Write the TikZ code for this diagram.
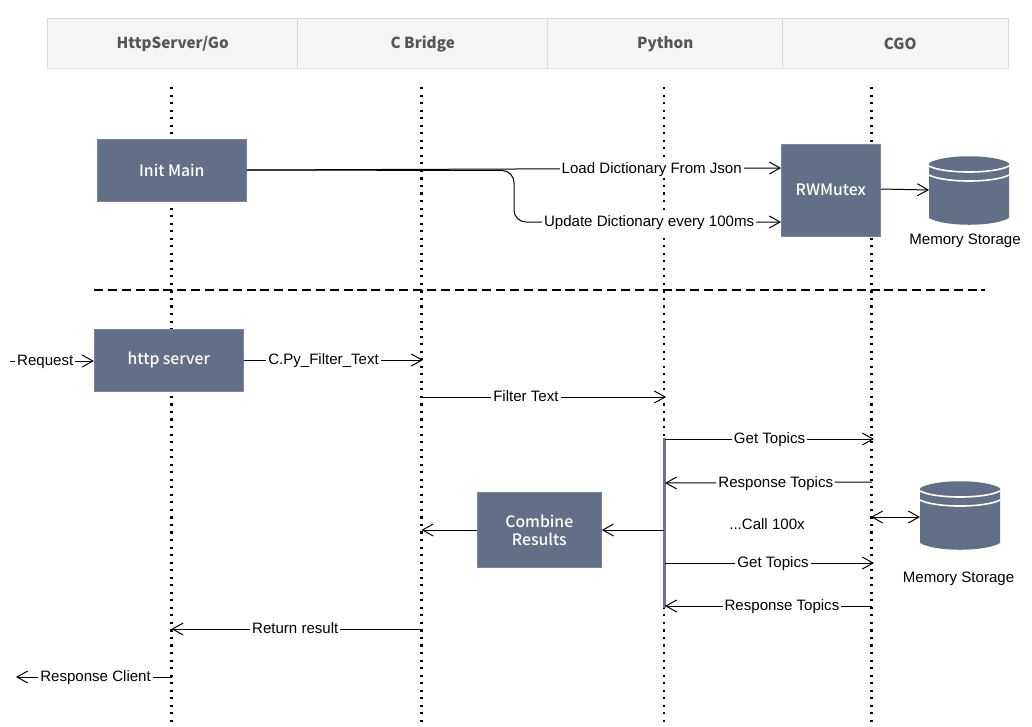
\documentclass[tikz,border=0pt]{standalone}
\usepackage{fontspec}
\setmainfont{Liberation Sans}
\newfontfamily\boxfont{Noto Sans CJK KR}
\newfontfamily\blockfont{Noto Sans CJK KR Medium}
\usetikzlibrary{arrows.meta}
\definecolor{slate}{HTML}{627087}
\definecolor{hdrfill}{HTML}{F5F5F5}
\definecolor{hdrline}{HTML}{D9D9D9}
\definecolor{hdrtext}{HTML}{555555}
\tikzset{
  x=0.75pt,y=-0.75pt,
  hdr/.style={draw=hdrline,line width=1.1pt,fill=hdrfill,text=hdrtext,font=\boxfont\bfseries\fontsize{11.4}{13}\selectfont,minimum height=37.5pt,inner sep=0pt,anchor=north west},
  block/.style={fill=slate,draw=slate!85!white,line width=0.4pt,text=white,font=\blockfont\fontsize{11.8}{13.5}\selectfont,align=center,inner sep=0pt},
  lifeline/.style={line width=1.6pt,dash pattern=on 1.6pt off 4.05pt},
  flow/.style={line width=0.75pt,-{Straight Barb[length=8pt,width=9pt,line width=0.75pt]}},
  both/.style={line width=0.75pt,{Straight Barb[length=8pt,width=9pt,line width=0.75pt]}-{Straight Barb[length=8pt,width=9pt,line width=0.75pt]}},
  lab/.style={fill=white,text=black,font=\fontsize{11.3}{13}\selectfont,inner sep=1.5pt,text height=9.6pt,text depth=2.4pt},
  plain/.style={text=black,font=\fontsize{11.3}{13}\selectfont,inner sep=0pt},
}
\newcommand{\memcyl}[3]{%
  \node[minimum width=60pt,minimum height=52pt,inner sep=0pt,anchor=north west] (#1) at (#2,#3) {};
  \begin{scope}[shift={(#2,#3)}]
    \fill[slate] (0,7) -- (0,62) .. controls (15,71) and (65,71) .. (80,62) -- (80,7) .. controls (65,-2) and (15,-2) .. (0,7) -- cycle;
    \draw[white,line width=1.2pt] (0,10) .. controls (15,18) and (65,18) .. (80,10);
    \draw[white,line width=1.2pt] (0,19) .. controls (15,27) and (65,27) .. (80,19);
  \end{scope}}
\begin{document}
\begin{tikzpicture}
\useasboundingbox (0,0) rectangle (1032,726);
% header
\node[hdr,minimum width=187.5pt] (h1) at (47,18) {HttpServer/Go};
\node[hdr,minimum width=187.5pt] (h2) at (297,18) {C Bridge};
\node[hdr,minimum width=176.25pt] (h3) at (547,18) {Python};
\node[hdr,minimum width=169.5pt] (h4) at (782,18) {\hspace*{6.75pt}CGO};
% lifelines
\coordinate (l1t) at (171.5,87); \coordinate (l1b) at (171.5,726);
\coordinate (l2t) at (421.5,87); \coordinate (l2b) at (421.5,726);
\coordinate (l3t) at (664,87);   \coordinate (l3b) at (664,726);
\coordinate (l4t) at (871.5,87); \coordinate (l4b) at (871.5,726);
\foreach \n in {1,2,3,4} \draw[lifeline] (l\n t) -- (l\n b);
% separator
\coordinate (sepa) at (94,290); \coordinate (sepb) at (985,290);
\draw[line width=1.6pt,dash pattern=on 6.8pt off 3.6pt] (sepa) -- (sepb);
% activation
\coordinate (acta) at (664.5,438); \coordinate (actb) at (664.5,608);
\draw[slate!70!gray,line width=1.7pt] (acta) -- (actb);
% blocks
\node[block,minimum width=112pt,minimum height=46.5pt] (init) at (171.8,170) {Init Main};
\node[block,minimum width=74.6pt,minimum height=69pt] (rw) at (830.8,190) {RWMutex};
\node[block,minimum width=112pt,minimum height=46.5pt] (http) at (168.8,360) {http server};
\node[block,minimum width=93.4pt,minimum height=56pt] (comb) at (539.3,530) {Combine\\Results};
\memcyl{mem1}{929}{156}
\memcyl{mem2}{920}{481}
\node[plain] (mem1l) at (965,241) {Memory Storage};
\node[plain] (mem2l) at (958.5,579) {Memory Storage};
% points on lifelines and free ends
\coordinate (rwa) at (781,168); \coordinate (rwb) at (781,222);
\coordinate (bend1) at (514,170.5); \coordinate (bend2) at (514,222);
\coordinate (reqs) at (10,361);
\coordinate (c1) at (423,360);
\coordinate (c2a) at (421.5,397); \coordinate (p1) at (666,397);
\coordinate (p2a) at (665,439); \coordinate (g1) at (874,439);
\coordinate (g2) at (872,482); \coordinate (p3) at (665,483);
\coordinate (p4a) at (665,563); \coordinate (g3) at (874,563);
\coordinate (g4) at (872,606); \coordinate (p5) at (665,606);
\coordinate (g5) at (871,517);
\coordinate (p6) at (664,530); \coordinate (c3) at (421.5,530);
\coordinate (c4) at (421.5,629); \coordinate (s1) at (171.5,629);
\coordinate (s2) at (172,677); \coordinate (cli) at (16,677);
% connectors
\draw[flow] (init.east) -- node[lab,pos=0.758]{Load Dictionary From Json} (rwa);
\draw[flow,rounded corners=9pt] (init.east) -- (bend1) -- (bend2) -- node[lab,pos=0.506]{Update Dictionary every 100ms} (rwb);
\draw[flow] (rw.east |- 0,189) -- (mem1.west |- 0,190);
\draw[flow] (reqs) -- node[lab,pos=0.42]{Request} (http.west |- reqs);
\draw[flow] (http.east |- c1) -- node[lab,pos=0.445]{C.Py\_Filter\_Text} (c1);
\draw[flow] (c2a) -- node[lab,pos=0.427]{Filter Text} (p1);
\draw[flow] (p2a) -- node[lab,pos=0.5]{Get Topics} (g1);
\draw[flow] (g2) -- node[lab,pos=0.465]{Response Topics} (p3);
\node[plain] (call) at (767,524) {...Call 100x};
\draw[both] (g5) -- (mem2.west |- g5);
\draw[flow] (p4a) -- node[lab,pos=0.517]{Get Topics} (g3);
\draw[flow] (g4) -- node[lab,pos=0.435]{Response Topics} (p5);
\draw[flow] (p6) -- (comb.east |- p6);
\draw[flow] (comb.west |- c3) -- (c3);
\draw[flow] (c4) -- node[lab,pos=0.505]{Return result} (s1);
\draw[flow] (s2) -- node[lab,pos=0.49]{Response Client} (cli);
\end{tikzpicture}
\end{document}
